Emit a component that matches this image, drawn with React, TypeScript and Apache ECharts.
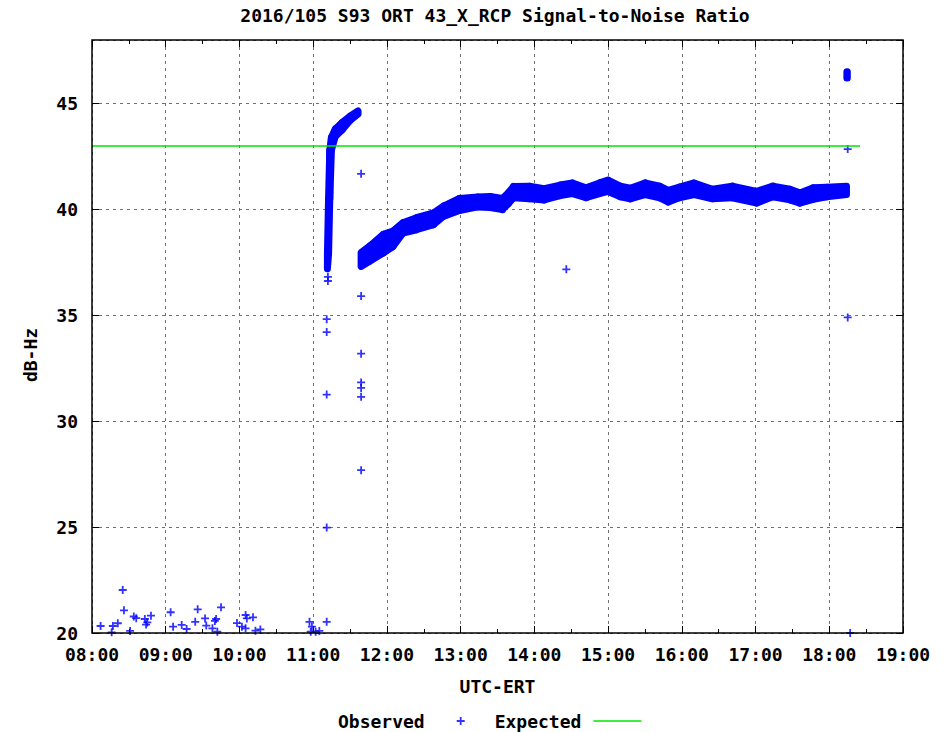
import React, { useEffect, useRef } from 'react';
import * as echarts from 'echarts';

const TITLE = '2016/105 S93 ORT 43_X_RCP Signal-to-Noise Ratio';
const X_NAME = 'UTC-ERT';
const Y_NAME = 'dB-Hz';
const X_MIN = 8;
const X_MAX = 19;
const Y_MIN = 20;
const Y_MAX = 48;
const Y_TICKS = [20, 25, 30, 35, 40, 45];

// Isolated observations (time, dB-Hz)
const obsTimes = [
  '08:07', '08:16', '08:17', '08:21', '08:25', '08:26', '08:31', '08:34', '08:36', '08:43',
  '08:44', '08:45', '08:48', '09:04', '09:06', '09:13', '09:17', '09:24', '09:26', '09:32',
  '09:33', '09:38', '09:40', '09:41', '09:42', '09:45', '09:58', '10:02', '10:05', '10:06',
  '10:05', '10:11', '10:13', '10:17', '10:57', '10:58', '10:59', '11:02', '11:05', '11:11',
  '11:11', '11:11', '11:11', '11:11', '11:12', '11:12', '11:39', '11:39', '11:39', '11:39',
  '11:39', '11:39', '11:39', '14:26', '18:15', '18:15', '18:17',
];
const obsValues = [
  20.33, 20.03, 20.33, 20.46, 22.03, 21.07, 20.10, 20.78, 20.70, 20.66,
  20.40, 20.50, 20.82, 20.98, 20.30, 20.38, 20.19, 20.53, 21.12, 20.69,
  20.35, 20.22, 20.57, 20.66, 20.06, 21.21, 20.47, 20.30, 20.85, 20.69,
  20.22, 20.74, 20.11, 20.17, 20.53, 20.06, 20.30, 20.06, 20.10, 20.53,
  24.98, 31.26, 34.21, 34.82, 36.62, 36.82, 27.69, 31.15, 31.57, 31.83,
  33.19, 35.91, 41.68, 37.17, 34.90, 42.85, 20.00,
];

// Dense observations: lower / upper edge of the cloud of points
const rampTimes = ['11:11:35', '11:12:30', '11:13:30', '11:14:50', '11:18:00', '11:23:30', '11:30:00', '11:36:30'];
const rampLow = [37.2, 37.9, 40.5, 42.8, 43.45, 43.75, 44.2, 44.5];
const rampHigh = [37.9, 40.5, 42.8, 43.4, 43.8, 44.1, 44.4, 44.65];

const trackTimes = [
  '11:39', '11:46', '11:57', '12:05', '12:13', '12:24', '12:38', '12:46', '12:59', '13:14',
  '13:24', '13:34', '13:39', '13:43', '13:56', '14:08', '14:21', '14:31', '14:42', '14:53',
  '15:00', '15:10', '15:18', '15:30', '15:42', '15:49', '15:58', '16:10', '16:25', '16:41',
  '17:01', '17:14', '17:28', '17:36', '17:47', '17:58', '18:14',
];
const trackLow = [
  37.31, 37.55, 37.94, 38.25, 38.88, 39.04, 39.28, 39.67, 39.95, 40.12,
  40.09, 39.99, 40.28, 40.55, 40.50, 40.45, 40.65, 40.75, 40.55, 40.75,
  40.85, 40.60, 40.50, 40.70, 40.55, 40.35, 40.55, 40.70, 40.50, 40.55,
  40.30, 40.60, 40.45, 40.30, 40.48, 40.60, 40.70,
];
const trackHigh = [
  37.96, 38.27, 38.82, 38.98, 39.37, 39.61, 39.84, 40.16, 40.52, 40.59,
  40.61, 40.52, 40.80, 41.08, 41.10, 40.98, 41.15, 41.25, 41.02, 41.25,
  41.38, 41.10, 41.00, 41.25, 41.10, 40.90, 41.05, 41.25, 40.95, 41.10,
  40.85, 41.10, 40.95, 40.78, 41.02, 41.05, 41.10,
];

const burstTimes = ['18:14:20', '18:14:40'];
const burstLow = [46.2, 46.2];
const burstHigh = [46.5, 46.5];

const expectedTimes = ['08:00', '18:25'];
const expectedValues = [43, 43];

const BLUE = '#0000ff';
const GREEN = '#00e600';
const GRID_COLOR = '#707070';
const FONT = 'DejaVu Sans Mono';
const PLUS = 'path://M3.1,0H4.9V8H3.1Z M0,3.1H8V4.9H0Z';
const LINE_ICON = 'path://M0,0H48V1.6H0Z';

function toHours(s: string): number {
  const p = s.split(':').map(Number);
  return p[0] + (p[1] || 0) / 60 + (p[2] || 0) / 3600;
}

function segments(times: string[], low: number[], high: number[]) {
  const out: number[][] = [];
  for (let i = 0; i < times.length - 1; i++) {
    out.push([toHours(times[i]), low[i], high[i], toHours(times[i + 1]), low[i + 1], high[i + 1]]);
  }
  return out;
}

const bandSeries = (data: number[][]) => ({
  type: 'custom',
  name: 'Observed',
  data,
  encode: { x: [0, 3], y: [1, 2, 4, 5] },
  z: 3,
  renderItem: (_params: any, api: any) => {
    const a = api.coord([api.value(0), api.value(2)]);
    const b = api.coord([api.value(3), api.value(5)]);
    const c = api.coord([api.value(3), api.value(4)]);
    const d = api.coord([api.value(0), api.value(1)]);
    return {
      type: 'polygon',
      shape: { points: [a, b, c, d] },
      style: { fill: BLUE, stroke: BLUE, lineWidth: 7, lineJoin: 'round' },
    };
  },
});

const hourLabel = (v: number) => (v < 10 ? '0' : '') + Math.round(v) + ':00';

export default function App() {
  const ref = useRef<HTMLDivElement>(null);
  useEffect(() => {
    if (!ref.current) return;
    const chart = echarts.init(ref.current, undefined, { renderer: 'svg' });
    const tickCommon = { inside: true, length: 7, lineStyle: { color: '#000', width: 1 } };
    const option: any = {
      animation: false,
      backgroundColor: '#fff',
      textStyle: { fontFamily: FONT, fontWeight: 'bold', fontSize: 18, color: '#000' },
      title: {
        text: TITLE,
        left: 495,
        top: 6,
        padding: 0,
        textAlign: 'center',
        textStyle: { fontFamily: FONT, fontWeight: 'bold', fontSize: 18, color: '#000' },
      },
      grid: {
        left: 92,
        right: 44,
        top: 40,
        bottom: 99,
        show: true,
        z: 10,
        borderColor: '#000',
        borderWidth: 1.5,
        backgroundColor: 'transparent',
      },
      legend: {
        left: 338,
        top: 712,
        align: 'right',
        itemWidth: 48,
        itemHeight: 8,
        itemGap: 30,
        padding: 0,
        selectedMode: false,
        textStyle: { fontFamily: FONT, fontWeight: 'bold', fontSize: 18, color: '#000', padding: [0, 7, 0, 0] },
        data: [
          { name: 'Observed', icon: PLUS },
          { name: 'Expected', icon: LINE_ICON, itemStyle: { color: GREEN } },
        ],
      },
      xAxis: [
        {
          type: 'value',
          min: X_MIN,
          max: X_MAX,
          interval: 1,
          name: X_NAME,
          nameLocation: 'middle',
          nameGap: 44,
          nameTextStyle: { fontFamily: FONT, fontWeight: 'bold', fontSize: 18, color: '#000' },
          axisLine: { show: false },
          axisTick: tickCommon,
          minorTick: { show: true, splitNumber: 2, length: 4, lineStyle: { color: '#000', width: 1 } },
          axisLabel: {
            formatter: hourLabel,
            margin: 12,
            fontFamily: FONT,
            fontWeight: 'bold',
            fontSize: 18,
            color: '#000',
          },
          splitLine: { show: true, lineStyle: { color: GRID_COLOR, type: [3, 4], width: 1 } },
        },
        {
          type: 'value',
          position: 'top',
          min: X_MIN,
          max: X_MAX,
          interval: 1,
          axisLine: { show: false },
          axisTick: tickCommon,
          minorTick: { show: true, splitNumber: 2, length: 4, lineStyle: { color: '#000', width: 1 } },
          axisLabel: { show: false },
          splitLine: { show: false },
        },
      ],
      yAxis: [
        {
          type: 'value',
          min: Y_MIN,
          max: Y_MAX,
          interval: 5,
          axisLine: { show: false },
          axisTick: tickCommon,
          axisLabel: {
            margin: 14,
            showMaxLabel: false,
            formatter: (v: number) => (Y_TICKS.indexOf(v) >= 0 ? String(v) : ''),
            fontFamily: FONT,
            fontWeight: 'bold',
            fontSize: 18,
            color: '#000',
          },
          splitLine: { show: true, lineStyle: { color: GRID_COLOR, type: [3, 4], width: 1 } },
        },
        {
          type: 'value',
          position: 'right',
          min: Y_MIN,
          max: Y_MAX,
          interval: 5,
          axisLine: { show: false },
          axisTick: tickCommon,
          axisLabel: { show: false },
          splitLine: { show: false },
        },
      ],
      graphic: [
        {
          type: 'text',
          x: 30,
          y: 355,
          rotation: Math.PI / 2,
          style: {
            text: Y_NAME,
            fontFamily: FONT,
            fontWeight: 'bold',
            fontSize: 18,
            fill: '#000',
            textAlign: 'center',
            textVerticalAlign: 'middle',
          },
        },
      ],
      series: [
        {
          type: 'scatter',
          name: 'Observed',
          symbol: PLUS,
          symbolSize: 8,
          itemStyle: { color: BLUE },
          z: 4,
          data: obsTimes.map((t, i) => [toHours(t), obsValues[i]]),
        },
        bandSeries(segments(rampTimes, rampLow, rampHigh)),
        bandSeries(segments(trackTimes, trackLow, trackHigh)),
        bandSeries(segments(burstTimes, burstLow, burstHigh)),
        {
          type: 'line',
          name: 'Expected',
          symbol: 'none',
          z: 5,
          lineStyle: { color: GREEN, width: 1.5 },
          itemStyle: { color: GREEN },
          data: expectedTimes.map((t, i) => [toHours(t), expectedValues[i]]),
        },
      ],
    };
    chart.setOption(option);
    return () => chart.dispose();
  }, []);
  return <div ref={ref} style={{ position: 'absolute', left: 0, top: 0, width: 947, height: 732 }} />;
}
